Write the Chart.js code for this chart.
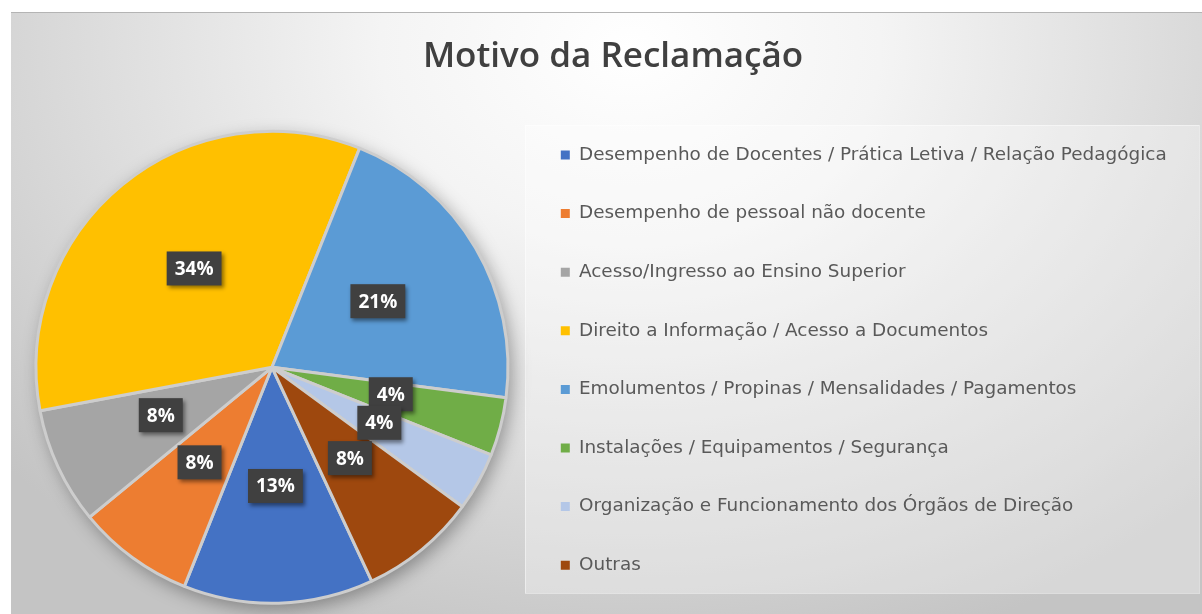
<!DOCTYPE html>
<html>
<head>
<meta charset="utf-8">
<script src="https://cdn.jsdelivr.net/npm/chart.js@4.4.1/dist/chart.umd.min.js"></script>
<style>
  body { margin: 0; background: #fff; overflow: hidden; }
  #wrap {
    position: absolute; left: 11px; top: 12px; width: 1191px; height: 602px; overflow: hidden;
    background: radial-gradient(ellipse 70% 105% at 52% 6%, #ffffff 0%, #f4f4f4 30%, #dcdcdc 65%, #c4c4c4 100%);
    box-shadow: inset 0 1px 0 #b4b4b4;
  }
  #box { position: absolute; left: 0; top: 0; width: 1191px; height: 617px; }
</style>
</head>
<body>
<div id="wrap"><div id="box"><canvas id="pieChart"></canvas></div></div>
<script>
const chartTitle = "Motivo da Reclamação";
const categories = [
  "Desempenho de Docentes / Prática Letiva / Relação Pedagógica",
  "Desempenho de pessoal não docente",
  "Acesso/Ingresso ao Ensino Superior",
  "Direito a Informação / Acesso a Documentos",
  "Emolumentos / Propinas / Mensalidades / Pagamentos",
  "Instalações / Equipamentos / Segurança",
  "Organização e Funcionamento dos Órgãos de Direção",
  "Outras",
];
const shares = [13, 8, 8, 34, 21, 4, 4, 8]; // percent
const sliceColors = ["#4472C4", "#ED7D31", "#A5A5A5", "#FFC000", "#5B9BD5", "#70AD47", "#B4C7E7", "#9E480E"];

const legendFont = { family: "DejaVu Sans", size: 18.4 };
const legendPad = 40.2;
const legendBox = 9;
const legendLeft = 507.6; // where the legend block should start (canvas px)

// measure longest label so the legend is wide enough to not clip
const m = document.createElement("canvas").getContext("2d");
m.font = legendFont.size + 'px "' + legendFont.family + '"';
const longest = Math.max(...categories.map((c) => m.measureText(c).width));
const legendWidth = legendPad + legendBox + legendFont.size / 2 + longest + 10;
const rightPad = Math.max(1191 - legendLeft - legendWidth - 2, 0);

// title + legend panel, drawn behind everything
const backdrop = {
  id: "backdrop",
  beforeDraw(chart) {
    const ctx = chart.ctx;
    ctx.save();
    ctx.fillStyle = "rgba(255,255,255,0.32)";
    ctx.fillRect(514, 113, 674, 468);
    ctx.strokeStyle = "rgba(255,255,255,0.45)";
    ctx.lineWidth = 1;
    ctx.strokeRect(514.5, 113.5, 674, 468);
    ctx.fillStyle = "#404040";
    ctx.font = '600 35px "Open Sans"';
    ctx.textAlign = "center";
    ctx.textBaseline = "middle";
    ctx.fillText(chartTitle, 602, 45);
    ctx.restore();
  },
  beforeDatasetsDraw(chart) {
    // soft shadow under the pie, also gives the grey gaps
    const arc = chart.getDatasetMeta(0).data[0];
    if (!arc) return;
    const ctx = chart.ctx;
    ctx.save();
    ctx.shadowColor = "rgba(0,0,0,0.35)";
    ctx.shadowBlur = 18;
    ctx.shadowOffsetX = 4;
    ctx.shadowOffsetY = 6;
    ctx.fillStyle = "#cdcdcd";
    ctx.beginPath();
    ctx.arc(arc.x, arc.y, arc.outerRadius, 0, 2 * Math.PI);
    ctx.fill();
    ctx.restore();
  },
};

const pctLabels = {
  id: "pctLabels",
  afterDatasetsDraw(chart) {
    const ctx = chart.ctx;
    const meta = chart.getDatasetMeta(0);
    ctx.save();
    ctx.font = 'bold 19px "Open Sans"';
    ctx.textAlign = "center";
    ctx.textBaseline = "middle";
    meta.data.forEach((arc, i) => {
      const p = arc.getProps(["x", "y", "startAngle", "endAngle", "outerRadius"], true);
      const mid = (p.startAngle + p.endAngle) / 2;
      const r = p.outerRadius * 0.52;
      const cx = p.x + Math.cos(mid) * r;
      const cy = p.y + Math.sin(mid) * r - 4;
      const txt = shares[i] + "%";
      const w = ctx.measureText(txt).width + 16;
      const h = 34;
      ctx.shadowColor = "rgba(0,0,0,0.45)";
      ctx.shadowBlur = 4;
      ctx.shadowOffsetX = 2;
      ctx.shadowOffsetY = 3;
      ctx.fillStyle = "#404040";
      ctx.fillRect(cx - w / 2, cy - h / 2, w, h);
      ctx.shadowColor = "transparent";
      ctx.fillStyle = "#ffffff";
      ctx.fillText(txt, cx, cy + 1);
    });
    ctx.restore();
  },
};

const ctx = document.getElementById("pieChart").getContext("2d");
new Chart(ctx, {
  type: "pie",
  data: {
    labels: categories,
    datasets: [
      {
        data: shares,
        backgroundColor: sliceColors,
        borderColor: "#cdcdcd",
        borderWidth: 3,
        radius: 236,
      },
    ],
  },
  options: {
    responsive: true,
    maintainAspectRatio: false,
    animation: false,
    rotation: 155,
    layout: { padding: { left: 12.4, right: rightPad, top: 93.6, bottom: 0 } },
    plugins: {
      tooltip: { enabled: false },
      title: { display: false },
      legend: {
        position: "right",
        align: "start",
        maxWidth: 900,
        labels: {
          boxWidth: legendBox,
          boxHeight: legendBox,
          padding: legendPad,
          color: "#595959",
          font: legendFont,
          generateLabels(chart) {
            return chart.data.labels.map((label, i) => ({
              text: label,
              fillStyle: sliceColors[i],
              strokeStyle: sliceColors[i],
              lineWidth: 0,
              fontColor: "#595959",
              hidden: false,
              index: i,
            }));
          },
        },
      },
    },
  },
  plugins: [backdrop, pctLabels],
});
</script>
</body>
</html>
